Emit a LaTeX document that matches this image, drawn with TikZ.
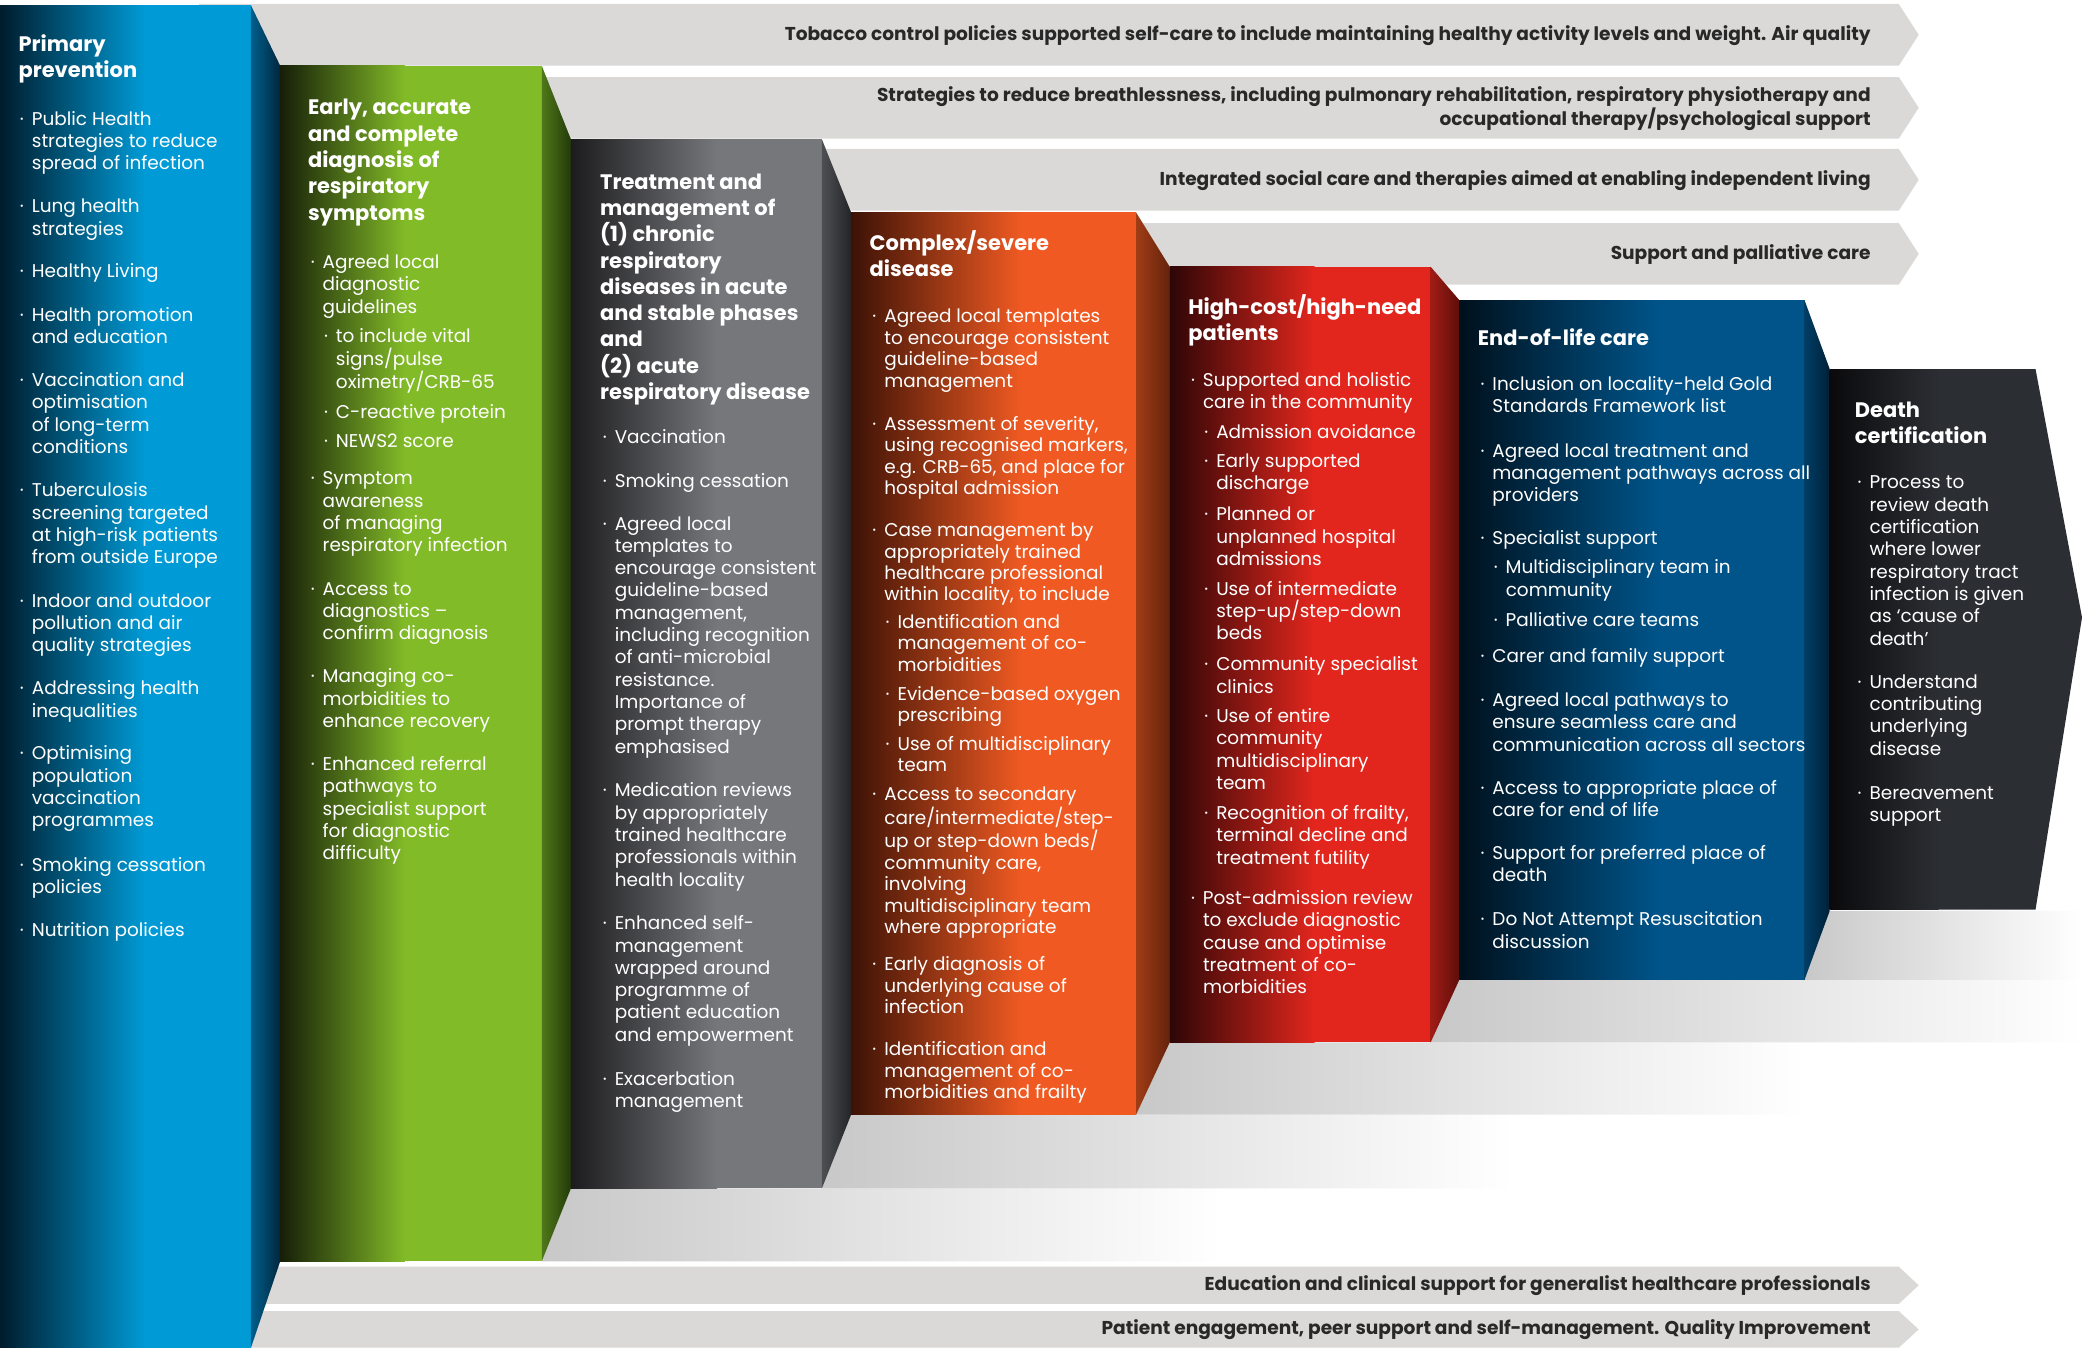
\documentclass[tikz,border=0pt]{standalone}
\usepackage{fontspec}
\setmainfont{Poppins}

% panel colours
\definecolor{bandgrey}{RGB}{218,217,215}
\definecolor{bandink}{RGB}{40,40,40}
\definecolor{floorgrey}{RGB}{200,200,200}
\definecolor{blueM}{RGB}{0,155,214}
\definecolor{blueD}{RGB}{0,28,45}
\definecolor{blueS1}{RGB}{0,95,140}
\definecolor{blueS2}{RGB}{0,38,62}
\definecolor{greenM}{RGB}{130,187,40}
\definecolor{greenD}{RGB}{22,30,8}
\definecolor{greenS1}{RGB}{80,120,25}
\definecolor{greenS2}{RGB}{35,58,10}
\definecolor{greyM}{RGB}{118,119,123}
\definecolor{greyD}{RGB}{28,28,30}
\definecolor{greyS1}{RGB}{78,79,83}
\definecolor{greyS2}{RGB}{35,36,38}
\definecolor{orangeM}{RGB}{240,90,34}
\definecolor{orangeD}{RGB}{60,18,6}
\definecolor{orangeS1}{RGB}{160,60,22}
\definecolor{orangeS2}{RGB}{100,35,12}
\definecolor{redM}{RGB}{226,38,29}
\definecolor{redD}{RGB}{45,6,6}
\definecolor{redS1}{RGB}{160,28,22}
\definecolor{redS2}{RGB}{95,14,10}
\definecolor{navyM}{RGB}{0,84,138}
\definecolor{navyD}{RGB}{0,16,28}
\definecolor{navyS1}{RGB}{0,62,102}
\definecolor{navyS2}{RGB}{0,32,55}
\definecolor{deathM}{RGB}{43,46,51}
\definecolor{deathD}{RGB}{10,10,12}

% first-line struts and bullet
\newcommand\tl{\rule{0pt}{12pt}}
\newcommand\hr{\rule{0pt}{15pt}}
\newcommand\bl{\llap{\textperiodcentered\hspace{6pt}}}

% grey band with an arrow tip: top, bottom
\newcommand\bandshape[2]{%
  \fill[bandgrey] (150,#1) -- (1430,#1) -- (1445,{(#1+#2)/2}) -- (1430,#2) -- (150,#2) -- cycle;}

% column: x0, xr, xn, top, nexttop, bottom, nextbottom, gradient end, colour prefix
\newcommand\column[9]{%
  \fill[#9M] (#1,#4) rectangle (#2,#6);
  \shade[left color=#9D, right color=#9M] (#1,#4) rectangle (#8,#6);
  \shade[left color=#9S1, right color=#9S2] (#2,#4) -- (#3,#5) -- (#3,#7) -- (#2,#6) -- cycle;}

% floor under a step: top y, bottom y, slant x at top, slant x at bottom, right end
\newcommand\floor[5]{%
  \shade[left color=floorgrey, right color=white] (#3,#1) -- (#5,#1) -- (#5,#2) -- (#4,#2) -- cycle;}

\tikzset{
  body/.style={anchor=north west, inner sep=0pt, outer sep=0pt, align=left,
    text=white, yshift=6.8pt, font=\fontsize{13.9}{16.8}\selectfont},
  tight/.style={font=\fontsize{13.9}{16.1}\selectfont},
  head/.style={anchor=north west, inner sep=0pt, outer sep=0pt, align=left,
    text=white, yshift=9.5pt, font=\bfseries\fontsize{15.8}{19.8}\selectfont},
  bandtext/.style={anchor=east, inner sep=0pt, align=right, text=bandink,
    font=\bfseries\fontsize{14}{18}\selectfont},
}

\begin{document}
\begin{tikzpicture}[x=1pt,y=-1pt]
\useasboundingbox (0,0) rectangle (1568,1017);
\fill[white] (0,0) rectangle (1568,1017);

% horizontal bands
\bandshape{3}{49.5}
\bandshape{58}{104.4}
\bandshape{112.2}{158.7}
\bandshape{168}{214.4}
\bandshape{954}{982}
\bandshape{987.4}{1015}

% floors under the steps
\floor{895}{950}{430}{408}{920}
\floor{839.5}{895}{641}{619}{1140}
\floor{785}{839.5}{881}{855.6}{1360}
\floor{738}{785}{1099}{1077.5}{1568}
\floor{686}{738}{1378}{1359}{1568}

% columns
\column{0}{189}{211}{4}{49.5}{1015}{950}{110}{blue}
\column{211}{408}{430}{49.5}{105}{950}{895}{305}{green}
\column{430}{619}{641}{105}{160}{895}{839.5}{540}{grey}
\column{641}{855.6}{881}{160}{201}{839.5}{785}{770}{orange}
\column{881}{1077.5}{1099}{201}{226}{785}{738}{990}{red}
\column{1099}{1359}{1378}{226}{278}{738}{686}{1250}{navy}
\fill[deathM] (1378,278) -- (1533,278) -- (1568,465) -- (1533,685) -- (1378,685) -- cycle;
\shade[left color=deathD, right color=deathM] (1378,278) rectangle (1460,685);

% band texts
\node[bandtext] (bt1) at (1409,26.5) {Tobacco control policies supported self-care to include maintaining healthy activity levels and weight. Air quality};
\node[bandtext] (bt2) at (1409,82) {Strategies to reduce breathlessness, including pulmonary rehabilitation, respiratory physiotherapy and\\occupational therapy/psychological support};
\node[bandtext] (bt3) at (1409,136) {Integrated social care and therapies aimed at enabling independent living};
\node[bandtext] (bt4) at (1409,191.5) {Support and palliative care};
\node[bandtext] (bt5) at (1409,968) {Education and clinical support for generalist healthcare professionals};
\node[bandtext] (bt6) at (1409,1001) {Patient engagement, peer support and self-management. Quality Improvement};

% Primary prevention
\node[head] (pph) at (14,33) {\hr Primary\\prevention};
\node[body] (pp1) at (24,89) {\tl\bl Public Health\\strategies to reduce\\spread of infection};
\node[body] (pp2) at (24,155) {\tl\bl Lung health\\strategies};
\node[body] (pp3) at (24,204) {\tl\bl Healthy Living};
\node[body] (pp4) at (24,237) {\tl\bl Health promotion\\and education};
\node[body] (pp5) at (24,286) {\tl\bl Vaccination and\\optimisation\\of long-term\\conditions};
\node[body] (pp6) at (24,369) {\tl\bl Tuberculosis\\screening targeted\\at high-risk patients\\from outside Europe};
\node[body] (pp7) at (24,452) {\tl\bl Indoor and outdoor\\pollution and air\\quality strategies};
\node[body] (pp8) at (24,518) {\tl\bl Addressing health\\inequalities};
\node[body] (pp9) at (24,567) {\tl\bl Optimising\\population\\vaccination\\programmes};
\node[body] (pp10) at (24,651) {\tl\bl Smoking cessation\\policies};
\node[body] (pp11) at (24,700) {\tl\bl Nutrition policies};

% Early, accurate and complete diagnosis
\node[head] (eah) at (232,81) {\hr Early, accurate\\and complete\\diagnosis of\\respiratory\\symptoms};
\node[body] (ea1) at (243,197) {\tl\bl Agreed local\\diagnostic\\guidelines};
\node[body] (ea1a) at (253,253) {\tl\bl to include vital\\signs/pulse\\oximetry/CRB-65};
\node[body] (ea1b) at (253,310) {\tl\bl C-reactive protein};
\node[body] (ea1c) at (253,332) {\tl\bl NEWS2 score};
\node[body] (ea2) at (243,360) {\tl\bl Symptom\\awareness\\of managing\\respiratory infection};
\node[body] (ea3) at (243,443) {\tl\bl Access to\\diagnostics –\\confirm diagnosis};
\node[body] (ea4) at (243,509) {\tl\bl Managing co-\\morbidities to\\enhance recovery};
\node[body] (ea5) at (243,575) {\tl\bl Enhanced referral\\pathways to\\specialist support\\for diagnostic\\difficulty};

% Treatment and management
\node[head] (tmh) at (452,137) {\hr Treatment and\\management of\\(1) chronic\\respiratory\\diseases in acute\\and stable phases\\and\\(2) acute\\respiratory disease};
\node[body] (tm1) at (463,329) {\tl\bl Vaccination};
\node[body] (tm2) at (463,362) {\tl\bl Smoking cessation};
\node[body] (tm3) at (463,394) {\tl\bl Agreed local\\templates to\\encourage consistent\\guideline-based\\management,\\including recognition\\of anti-microbial\\resistance.\\Importance of\\prompt therapy\\emphasised};
\node[body] (tm4) at (463,595) {\tl\bl Medication reviews\\by appropriately\\trained healthcare\\professionals within\\health locality};
\node[body] (tm5) at (463,695) {\tl\bl Enhanced self-\\management\\wrapped around\\programme of\\patient education\\and empowerment};
\node[body] (tm6) at (463,812) {\tl\bl Exacerbation\\management};

% Complex/severe disease
\node[head] (csh) at (655,183) {\hr Complex/severe\\disease};
\node[body,tight] (cs1) at (666,238) {\tl\bl Agreed local templates\\to encourage consistent\\guideline-based\\management};
\node[body,tight] (cs2) at (666,319) {\tl\bl Assessment of severity,\\using recognised markers,\\e.g. CRB-65, and place for\\hospital admission};
\node[body,tight] (cs3) at (666,399) {\tl\bl Case management by\\appropriately trained\\healthcare professional\\within locality, to include};
\node[body,tight] (cs3a) at (676,468) {\tl\bl Identification and\\management of co-\\morbidities};
\node[body,tight] (cs3b) at (676,522) {\tl\bl Evidence-based oxygen\\prescribing};
\node[body,tight] (cs3c) at (676,560) {\tl\bl Use of multidisciplinary\\team};
\node[body,tight] (cs4) at (666,598) {\tl\bl Access to secondary\\care/intermediate/step-\\up or step-down beds/\\community care,\\involving\\multidisciplinary team\\where appropriate};
\node[body,tight] (cs5) at (666,726) {\tl\bl Early diagnosis of\\underlying cause of\\infection};
\node[body,tight] (cs6) at (666,790) {\tl\bl Identification and\\management of co-\\morbidities and frailty};

% High-cost/high-need patients
\node[head] (hch) at (895,231) {\hr High-cost/high-need\\patients};
\node[body] (hc1) at (906,286) {\tl\bl Supported and holistic\\care in the community};
\node[body] (hc1a) at (916,325) {\tl\bl Admission avoidance};
\node[body] (hc1b) at (916,347) {\tl\bl Early supported\\discharge};
\node[body] (hc1c) at (916,387) {\tl\bl Planned or\\unplanned hospital\\admissions};
\node[body] (hc1d) at (916,443) {\tl\bl Use of intermediate\\step-up/step-down\\beds};
\node[body] (hc1e) at (916,500) {\tl\bl Community specialist\\clinics};
\node[body] (hc1f) at (916,539) {\tl\bl Use of entire\\community\\multidisciplinary\\team};
\node[body] (hc1g) at (916,612) {\tl\bl Recognition of frailty,\\terminal decline and\\treatment futility};
\node[body] (hc2) at (906,676) {\tl\bl Post-admission review\\to exclude diagnostic\\cause and optimise\\treatment of co-\\morbidities};

% End-of-life care
\node[head] (elh) at (1113,255) {\hr End-of-life care};
\node[body] (el1) at (1124,289) {\tl\bl Inclusion on locality-held Gold\\Standards Framework list};
\node[body] (el2) at (1124,339) {\tl\bl Agreed local treatment and\\management pathways across all\\providers};
\node[body] (el3) at (1124,405) {\tl\bl Specialist support};
\node[body] (el3a) at (1134,427) {\tl\bl Multidisciplinary team in\\community};
\node[body] (el3b) at (1134,467) {\tl\bl Palliative care teams};
\node[body] (el4) at (1124,494) {\tl\bl Carer and family support};
\node[body] (el5) at (1124,527) {\tl\bl Agreed local pathways to\\ensure seamless care and\\communication across all sectors};
\node[body] (el6) at (1124,593) {\tl\bl Access to appropriate place of\\care for end of life};
\node[body] (el7) at (1124,642) {\tl\bl Support for preferred place of\\death};
\node[body] (el8) at (1124,692) {\tl\bl Do Not Attempt Resuscitation\\discussion};

% Death certification
\node[head] (dch) at (1397,309) {\hr Death\\certification};
\node[body] (dc1) at (1408,363) {\tl\bl Process to\\review death\\certification\\where lower\\respiratory tract\\infection is given\\as ‘cause of\\death’};
\node[body] (dc2) at (1408,513) {\tl\bl Understand\\contributing\\underlying\\disease};
\node[body] (dc3) at (1408,597) {\tl\bl Bereavement\\support};
\end{tikzpicture}
\end{document}
